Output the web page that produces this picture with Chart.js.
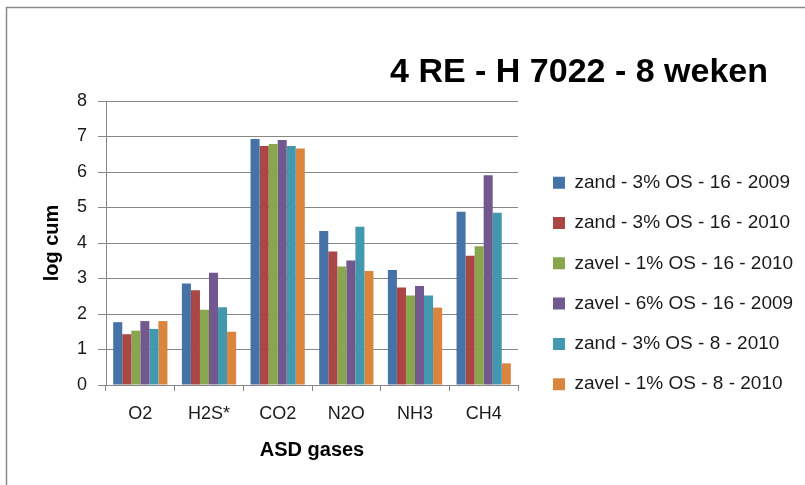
<!DOCTYPE html>
<html>
<head>
<meta charset="utf-8">
<script src="https://cdn.jsdelivr.net/npm/chart.js@4/dist/chart.umd.min.js"></script>
<style>
  html, body { margin: 0; padding: 0; background: #ffffff; }
  #wrap { width: 805px; height: 485px; position: relative; }
</style>
</head>
<body>
<div id="wrap"><canvas id="chart" width="805" height="485"></canvas></div>
<script>
// Chart heading
const chartTitle = '4 RE - H 7022 - 8 weken';

// Categories (x axis)
const gases = ['O2', 'H2S*', 'CO2', 'N2O', 'NH3', 'CH4'];

// Series names (legend)
const seriesNames = [
  'zand - 3% OS - 16 - 2009',
  'zand - 3% OS - 16 - 2010',
  'zavel - 1% OS - 16 - 2010',
  'zavel - 6% OS - 16 - 2009',
  'zand - 3% OS - 8 - 2010',
  'zavel - 1% OS - 8 - 2010'
];

// log cum values per gas
const zand3_16_2009  = [1.77, 2.86, 6.93, 4.34, 3.24, 4.88];
const zand3_16_2010  = [1.43, 2.67, 6.73, 3.76, 2.75, 3.64];
const zavel1_16_2010 = [1.53, 2.12, 6.79, 3.34, 2.52, 3.91];
const zavel6_16_2009 = [1.80, 3.16, 6.90, 3.51, 2.79, 5.91];
const zand3_8_2010   = [1.58, 2.19, 6.73, 4.46, 2.52, 4.85];
const zavel1_8_2010  = [1.80, 1.50, 6.66, 3.21, 2.18, 0.61];

// y axis tick values
const yTicks = [0, 1, 2, 3, 4, 5, 6, 7, 8];

const seriesValues = [zand3_16_2009, zand3_16_2010, zavel1_16_2010, zavel6_16_2009, zand3_8_2010, zavel1_8_2010];
const seriesColors = ['#4572A7', '#AA4643', '#89A54E', '#71588F', '#4198AF', '#DB843D'];

const FONT = '"Liberation Sans", Arial, sans-serif';
const GRID = '#868686';
const LEGEND_FONT = 19;
const LEGEND_BOX = 12;
const LEGEND_PAD = 21.3;

// measure legend width so the plot area ends where intended
const mctx = document.createElement('canvas').getContext('2d');
mctx.font = LEGEND_FONT + 'px ' + FONT;
const widestLabel = Math.max(...seriesNames.map(s => mctx.measureText(s).width));
const legendWidth = LEGEND_PAD + LEGEND_BOX + LEGEND_FONT / 2 + widestLabel + 10;
const plotRight = 518;

// outer frame of the chart object
const frame = {
  id: 'frame',
  beforeDraw(chart) {
    const ctx = chart.ctx;
    ctx.save();
    ctx.fillStyle = '#ffffff';
    ctx.fillRect(0, 0, chart.width, chart.height);
    ctx.strokeStyle = '#8a8a8a';
    ctx.lineWidth = 1.5;
    ctx.beginPath();
    ctx.moveTo(6.5, chart.height + 5);
    ctx.lineTo(6.5, 7.5);
    ctx.lineTo(chart.width + 5, 7.5);
    ctx.stroke();
    ctx.restore();
  }
};

// heading text, right of centre
const heading = {
  id: 'heading',
  afterDraw(chart) {
    const ctx = chart.ctx;
    ctx.save();
    ctx.font = 'bold 34px ' + FONT;
    ctx.fillStyle = '#000000';
    ctx.textAlign = 'center';
    ctx.textBaseline = 'alphabetic';
    ctx.fillText(chartTitle, 579, 81.5);
    ctx.restore();
  }
};

// place the legend column lower-right of the plot
const legendPlace = {
  id: 'legendPlace',
  afterLayout(chart) {
    const lg = chart.legend;
    if (!lg) return;
    const pad = lg.options.labels.padding;
    const dx = 553 - (lg.left + pad);
    const dy = 173.2 - (lg.top + pad);
    lg.left += dx; lg.right += dx;
    lg.top += dy; lg.bottom += dy;
  }
};

new Chart(document.getElementById('chart'), {
  type: 'bar',
  data: {
    labels: gases,
    datasets: seriesNames.map((name, i) => ({
      label: name,
      data: seriesValues[i],
      backgroundColor: seriesColors[i],
      borderWidth: 0,
      categoryPercentage: 0.79,
      barPercentage: 1.0
    }))
  },
  options: {
    responsive: false,
    devicePixelRatio: 1,
    animation: false,
    layout: { padding: { left: 0, top: 101, right: 805 - plotRight - legendWidth, bottom: 0 } },
    plugins: {
      title: { display: false },
      tooltip: { enabled: false },
      legend: {
        display: true,
        position: 'right',
        align: 'start',
        maxWidth: 400,
        labels: {
          boxWidth: LEGEND_BOX,
          boxHeight: LEGEND_BOX,
          padding: LEGEND_PAD,
          color: '#1a1a1a',
          font: { family: FONT, size: LEGEND_FONT }
        }
      }
    },
    scales: {
      x: {
        grid: {
          display: true,
          drawOnChartArea: false,
          drawTicks: true,
          tickLength: 6,
          offset: true,
          color: GRID
        },
        border: { display: true, color: GRID, width: 1 },
        ticks: {
          color: '#1a1a1a',
          padding: 12,
          font: { family: FONT, size: 18 }
        },
        title: {
          display: true,
          text: 'ASD gases',
          color: '#000000',
          padding: { top: 0, bottom: 23 },
          font: { family: FONT, size: 20, weight: 'bold' }
        },
        afterFit(scale) { scale.height = 100; }
      },
      y: {
        min: 0,
        max: 8,
        afterBuildTicks(scale) { scale.ticks = yTicks.map(v => ({ value: v })); },
        grid: {
          display: true,
          drawTicks: true,
          tickLength: 8,
          color: GRID,
          lineWidth: 1
        },
        border: { display: true, color: GRID, width: 1 },
        ticks: {
          color: '#1a1a1a',
          padding: 11,
          font: { family: FONT, size: 18 }
        },
        title: {
          display: true,
          text: 'log cum',
          color: '#000000',
          padding: { top: 40, bottom: 0 },
          font: { family: FONT, size: 20, weight: 'bold' }
        },
        afterFit(scale) { scale.width = 106; }
      }
    }
  },
  plugins: [frame, heading, legendPlace]
});
</script>
</body>
</html>
